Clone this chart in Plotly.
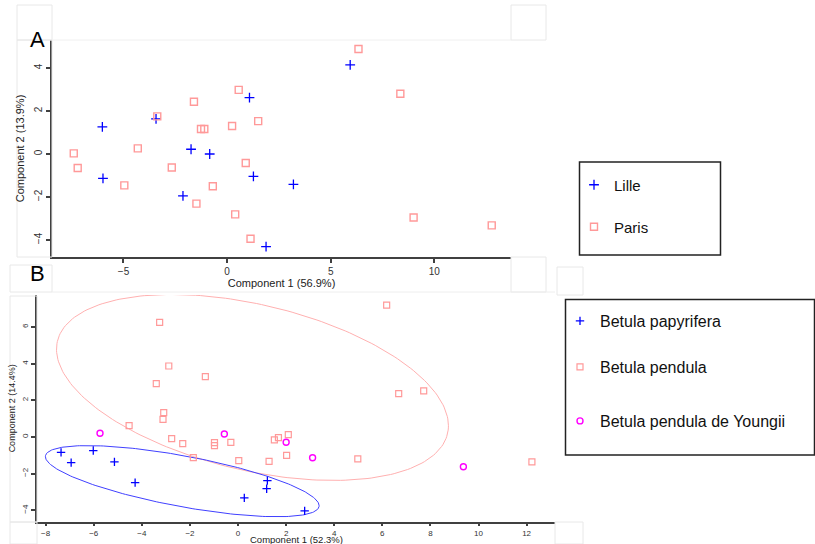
import numpy as np
import plotly.graph_objects as go

W, H = 815, 544

# ---------------- Panel A data ----------------
lille_x = [5.94, 1.08, -6.02, -3.43, -1.74, -0.84, -5.99, 1.27, 3.20, -2.13, 1.88]
lille_y = [4.14, 2.62, 1.26, 1.63, 0.22, 0.00, -1.13, -1.04, -1.41, -1.95, -4.31]

paris_x = [6.34, 8.36, 0.56, -1.60, -3.37, -1.26, -1.10, 0.24, 1.50, -4.31, -7.40,
           -7.21, -2.67, 0.90, -4.96, -0.69, -1.48, 0.39, 1.13, 9.00, 12.77]
paris_y = [4.88, 2.80, 2.98, 2.43, 1.75, 1.16, 1.16, 1.30, 1.53, 0.26, 0.03,
           -0.65, -0.63, -0.42, -1.46, -1.50, -2.31, -2.81, -3.94, -2.95, -3.32]

# ---------------- Panel B data ----------------
papy_x = [-7.36, -6.94, -6.02, -5.14, -4.28, 0.26, 1.22, 1.19, 2.77]
papy_y = [-0.84, -1.40, -0.74, -1.36, -2.49, -3.32, -2.38, -2.82, -4.03]

pend_x = [6.18, -3.26, -2.88, -1.36, -3.40, 6.68, -3.09, -3.12, -4.53, -2.76, -2.30, -0.98,
          -0.98, -0.30, -1.86, 0.03, 1.51, 1.68, 2.09, 1.29, 2.02, 4.98, 7.72, 12.22]
pend_y = [7.19, 6.25, 3.87, 3.29, 2.91, 2.36, 1.33, 0.96, 0.62, -0.09, -0.36, -0.31,
          -0.47, -0.29, -1.13, -1.29, -0.16, -0.04, 0.13, -1.33, -1.00, -1.20, 2.51, -1.36]

youn_x = [-5.74, -0.57, 2.00, 3.10, 9.37]
youn_y = [0.20, 0.16, -0.29, -1.13, -1.62]

# ellipse parameters (centre, covariance-like matrix) in data units
pend_ell_center = [0.6, 2.7]
pend_ell_cov = [[66.4, -17.0], [-17.0, 25.7]]
papy_ell_center = [-2.32, -2.41]
papy_ell_cov = [[32.4, -7.62], [-7.62, 3.76]]


def ellipse(center, cov, n=240):
    t = np.linspace(0, 2 * np.pi, n)
    L = np.linalg.cholesky(np.array(cov))
    pts = L @ np.vstack([np.cos(t), np.sin(t)])
    return pts[0] + center[0], pts[1] + center[1]


def pxx(x):
    return x / W


def pyy(y):
    return 1 - y / H


FONT = "Arial, Liberation Sans, sans-serif"
BLUE = "#0000ff"
RED = "#ff9999"
MAG = "#ff00ff"

fig = go.Figure()

# Panel A
fig.add_trace(go.Scatter(x=lille_x, y=lille_y, mode="markers", name="Lille",
                         marker=dict(symbol="cross-thin", size=7, line=dict(color=BLUE, width=1.3), color=BLUE),
                         xaxis="x", yaxis="y", legend="legend"))
fig.add_trace(go.Scatter(x=paris_x, y=paris_y, mode="markers", name="Paris",
                         marker=dict(symbol="square-open", size=7, color=RED, line=dict(width=1.4)),
                         xaxis="x", yaxis="y", legend="legend2"))

# Panel B ellipses
ex, ey = ellipse(pend_ell_center, pend_ell_cov)
fig.add_trace(go.Scatter(x=ex, y=ey, mode="lines", line=dict(color="#ffb0b0", width=1),
                         showlegend=False, hoverinfo="skip", xaxis="x2", yaxis="y2"))
ex, ey = ellipse(papy_ell_center, papy_ell_cov)
fig.add_trace(go.Scatter(x=ex, y=ey, mode="lines", line=dict(color="#4040ff", width=1),
                         showlegend=False, hoverinfo="skip", xaxis="x2", yaxis="y2"))

fig.add_trace(go.Scatter(x=papy_x, y=papy_y, mode="markers", name="Betula papyrifera",
                         marker=dict(symbol="cross-thin", size=6, line=dict(color=BLUE, width=1.3), color=BLUE),
                         xaxis="x2", yaxis="y2", legend="legend3"))
fig.add_trace(go.Scatter(x=pend_x, y=pend_y, mode="markers", name="Betula pendula",
                         marker=dict(symbol="square-open", size=6, color=RED, line=dict(width=1.2)),
                         xaxis="x2", yaxis="y2", legend="legend4"))
fig.add_trace(go.Scatter(x=youn_x, y=youn_y, mode="markers", name="Betula pendula de Youngii",
                         marker=dict(symbol="circle-open", size=6, color=MAG, line=dict(width=1.4)),
                         xaxis="x2", yaxis="y2", legend="legend5"))

axis_common = dict(showgrid=False, zeroline=False, showline=True, linecolor="#404040", linewidth=1.5,
                   ticks="outside", tickcolor="#404040", tickwidth=1.5,
                   automargin=False, mirror=False)


def leg(x, y, size):
    return dict(x=pxx(x), y=pyy(y), xanchor="left", yanchor="middle", bgcolor="rgba(0,0,0,0)",
                borderwidth=0, font=dict(family=FONT, size=size, color="#111111"))


shapes = []
# faint frame artefacts
for (x0, y0, x1, y1) in [(17, 5, 52, 40), (17, 40, 52, 257), (511, 5, 546, 40), (511, 257, 546, 292),
                         (557, 267, 583, 295), (10, 265, 52, 292), (10, 296, 37, 522), (10, 522, 37, 544),
                         (555, 522, 583, 544)]:
    shapes.append(dict(type="rect", xref="paper", yref="paper", x0=pxx(x0), x1=pxx(x1), y0=pyy(y0), y1=pyy(y1),
                       line=dict(color="#e8e8e8", width=1)))
shapes.append(dict(type="line", xref="paper", yref="paper", x0=pxx(52), x1=pxx(511), y0=pyy(40), y1=pyy(40),
                   line=dict(color="#f0f0f0", width=1)))
shapes.append(dict(type="line", xref="paper", yref="paper", x0=pxx(52), x1=pxx(555), y0=pyy(292), y1=pyy(292),
                   line=dict(color="#eeeeee", width=1)))
# legend frames
shapes.append(dict(type="rect", xref="paper", yref="paper", x0=pxx(579.5), x1=pxx(720.5), y0=pyy(162), y1=pyy(255),
                   line=dict(color="#222222", width=1.5)))
shapes.append(dict(type="rect", xref="paper", yref="paper", x0=pxx(565.5), x1=pxx(814.5), y0=pyy(299.5), y1=pyy(455),
                   line=dict(color="#222222", width=1.5)))

fig.update_layout(
    width=W, height=H, template="none",
    paper_bgcolor="white", plot_bgcolor="white",
    margin=dict(l=0, r=0, t=0, b=0),
    font=dict(family=FONT, color="#222222"),
    xaxis=dict(domain=[pxx(52), pxx(511)], range=[-8.45, 13.7], dtick=5, anchor="y", ticklen=4,
               tickfont=dict(size=10, color="#333333"),
               title=dict(text="Component 1 (56.9%)", font=dict(size=11, color="#222222"), standoff=2),
               **axis_common),
    yaxis=dict(domain=[pyy(257), pyy(40)], range=[-4.79, 5.3], dtick=2, anchor="x", tickangle=-90, ticklen=4,
               tickfont=dict(size=10, color="#333333"),
               title=dict(text="Component 2 (13.9%)", font=dict(size=11, color="#222222"), standoff=6),
               **axis_common),
    xaxis2=dict(domain=[pxx(37), pxx(555)], range=[-8.36, 13.18], dtick=2, anchor="y2", ticklen=3,
                tickfont=dict(size=8, color="#333333"),
                **axis_common),
    yaxis2=dict(domain=[pyy(521.7), pyy(295)], range=[-4.62, 7.74], dtick=2, anchor="x2", tickangle=-90,
                ticklen=4, tickfont=dict(size=8, color="#333333"),
                title=dict(text="Component 2 (14.4%)", font=dict(size=9, color="#222222"), standoff=4),
                **axis_common),
    legend=leg(574, 185, 15),
    legend2=leg(574, 227, 15),
    legend3=leg(560, 321, 16),
    legend4=leg(560, 367, 16),
    legend5=leg(560, 421, 16),
    shapes=shapes,
    annotations=[
        dict(text="A", x=pxx(37), y=pyy(40), xref="paper", yref="paper", showarrow=False,
             font=dict(family=FONT, size=22, color="black"), xanchor="center", yanchor="middle"),
        dict(text="B", x=pxx(37), y=pyy(273), xref="paper", yref="paper", showarrow=False,
             font=dict(family=FONT, size=22, color="black"), xanchor="center", yanchor="middle"),
        dict(text="Component 1 (52.3%)", x=pxx(296), y=pyy(539), xref="paper", yref="paper",
             showarrow=False, font=dict(family=FONT, size=9.5, color="#222222"),
             xanchor="center", yanchor="middle"),
    ],
)

fig.write_html("out.html", config={"displayModeBar": False},
               post_script="document.body.style.margin='0';document.body.style.overflow='hidden';")
